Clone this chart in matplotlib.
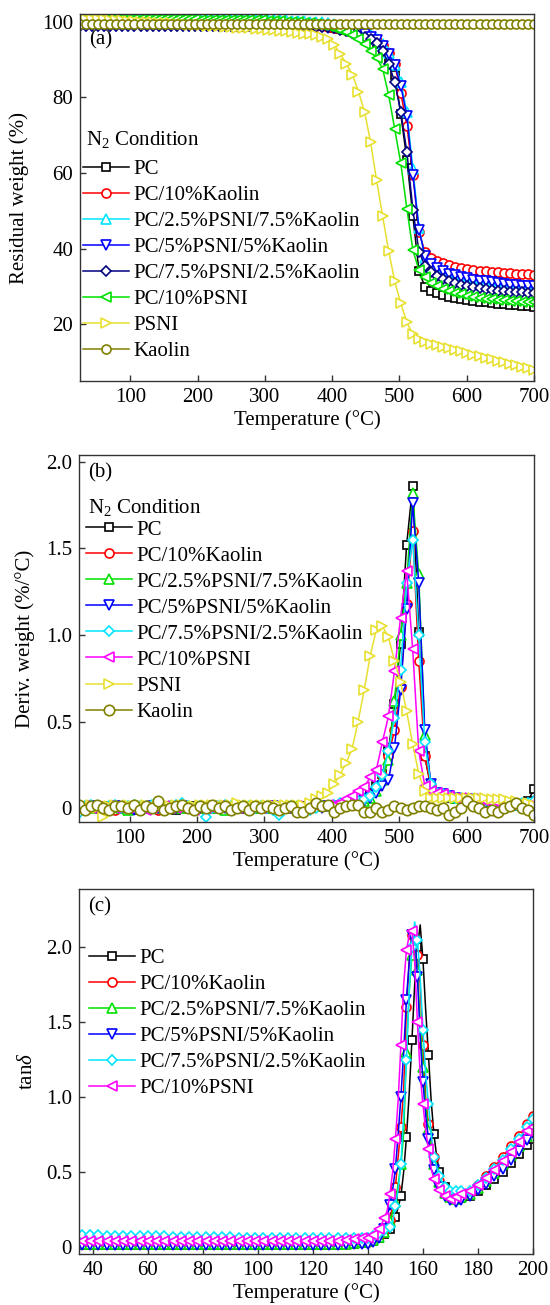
import matplotlib
matplotlib.use("Agg")
import matplotlib.pyplot as plt
from matplotlib.ticker import FuncFormatter

plt.rcParams['font.family'] = ['Liberation Serif', 'DejaVu Serif']
plt.rcParams['mathtext.fontset'] = 'custom'
plt.rcParams['mathtext.rm'] = 'Liberation Serif'
plt.rcParams['mathtext.it'] = 'Liberation Serif:italic'

# ---------------- data: TGA / DTG (temperature, degC) ----------------
T_TGA = [25, 34, 43, 52, 61, 70, 79, 88, 97, 106,
         115, 124, 133, 142, 151, 160, 169, 178, 187, 196,
         205, 214, 223, 232, 241, 250, 259, 268, 277, 286,
         295, 304, 313, 322, 331, 340, 349, 358, 367, 376,
         385, 394, 403, 412, 421, 430, 439, 448, 457, 466,
         475, 484, 493, 502, 511, 520, 529, 538, 547, 556,
         565, 574, 583, 592, 601, 610, 619, 628, 637, 646,
         655, 664, 673, 682, 691, 700]

tga_pc = [99.9, 99.9, 99.9, 99.9, 99.9, 99.9, 99.9, 99.9, 99.9, 99.9,
          99.9, 99.9, 99.9, 99.9, 99.9, 99.9, 99.9, 99.9, 99.9, 99.9,
          99.8, 99.8, 99.8, 99.8, 99.8, 99.8, 99.8, 99.8, 99.8, 99.8,
          99.8, 99.7, 99.7, 99.6, 99.6, 99.5, 99.4, 99.3, 99.2, 99.0,
          98.9, 98.7, 98.4, 98.1, 97.8, 97.3, 96.8, 96.2, 95.3, 94.2,
          92.6, 90.3, 86.0, 75.5, 63.5, 48.5, 34.0, 29.8, 28.9, 28.2,
          27.7, 27.3, 27.0, 26.7, 26.4, 26.2, 26.0, 25.8, 25.6, 25.4,
          25.3, 25.1, 25.0, 24.8, 24.7, 24.6]
tga_k10 = [99.7, 99.7, 99.7, 99.7, 99.7, 99.7, 99.7, 99.7, 99.7, 99.7,
           99.7, 99.7, 99.7, 99.7, 99.7, 99.7, 99.7, 99.7, 99.7, 99.7,
           99.7, 99.7, 99.7, 99.7, 99.7, 99.7, 99.7, 99.7, 99.7, 99.7,
           99.6, 99.6, 99.5, 99.5, 99.4, 99.3, 99.2, 99.1, 99.0, 98.9,
           98.7, 98.5, 98.3, 98.0, 97.7, 97.3, 96.9, 96.4, 95.7, 94.9,
           93.7, 91.8, 88.8, 81.0, 72.5, 59.5, 44.5, 39.0, 37.6, 36.7,
           36.1, 35.6, 35.2, 34.9, 34.6, 34.4, 34.2, 34.0, 33.9, 33.7,
           33.6, 33.5, 33.4, 33.3, 33.2, 33.1]
tga_p25 = [100.6, 100.6, 100.6, 100.6, 100.6, 100.6, 100.6, 100.6, 100.6, 100.6,
           100.6, 100.6, 100.6, 100.6, 100.6, 100.6, 100.6, 100.6, 100.6, 100.6,
           100.5, 100.5, 100.5, 100.5, 100.5, 100.5, 100.5, 100.5, 100.5, 100.5,
           100.5, 100.4, 100.4, 100.3, 100.3, 100.2, 100.2, 100.1, 100.0, 99.9,
           99.8, 99.6, 99.4, 99.1, 98.8, 98.4, 97.9, 97.3, 96.5, 95.5,
           94.0, 91.8, 88.5, 84.0, 76.0, 61.0, 45.5, 37.5, 35.2, 34.0,
           33.2, 32.6, 32.2, 31.8, 31.5, 31.2, 31.0, 30.8, 30.6, 30.4,
           30.3, 30.1, 30.0, 29.9, 29.8, 29.7]
tga_p50 = [98.8, 98.8, 98.8, 98.8, 98.8, 98.8, 98.8, 98.8, 98.8, 98.8,
           98.8, 98.8, 98.8, 98.8, 98.8, 98.8, 98.8, 98.8, 98.8, 98.8,
           98.8, 98.8, 98.8, 98.8, 98.8, 98.8, 98.8, 98.8, 98.8, 98.8,
           98.8, 98.8, 98.8, 98.8, 98.8, 98.8, 98.8, 98.8, 98.8, 98.7,
           98.6, 98.4, 98.2, 98.0, 97.8, 97.5, 97.2, 96.8, 96.0, 95.0,
           93.5, 91.5, 88.5, 83.0, 75.0, 59.5, 45.0, 38.0, 36.0, 34.8,
           34.0, 33.4, 32.9, 32.5, 32.1, 31.8, 31.5, 31.3, 31.1, 30.9,
           30.7, 30.5, 30.4, 30.2, 30.1, 30.0]
tga_p75 = [98.7, 98.7, 98.7, 98.7, 98.7, 98.7, 98.7, 98.7, 98.7, 98.7,
           98.7, 98.7, 98.7, 98.7, 98.7, 98.7, 98.7, 98.7, 98.7, 98.7,
           98.7, 98.7, 98.7, 98.7, 98.7, 98.7, 98.7, 98.7, 98.7, 98.7,
           98.7, 98.7, 98.7, 98.7, 98.7, 98.7, 98.7, 98.7, 98.7, 98.6,
           98.6, 98.5, 98.3, 97.9, 97.4, 96.9, 96.4, 95.9, 95.5, 94.4,
           92.2, 88.8, 84.0, 76.0, 65.5, 50.2, 39.2, 35.5, 33.8, 32.8,
           32.0, 31.4, 30.9, 30.5, 30.1, 29.8, 29.5, 29.3, 29.1, 28.9,
           28.7, 28.6, 28.5, 28.4, 28.3, 28.2]
tga_p100 = [100.6, 100.6, 100.6, 100.6, 100.6, 100.6, 100.6, 100.6, 100.6, 100.6,
            100.6, 100.6, 100.6, 100.6, 100.6, 100.6, 100.6, 100.6, 100.6, 100.6,
            100.5, 100.5, 100.5, 100.5, 100.4, 100.4, 100.4, 100.4, 100.3, 100.3,
            100.3, 100.2, 100.2, 100.1, 100.0, 99.9, 99.8, 99.6, 99.5, 99.3,
            99.0, 98.7, 98.3, 97.8, 97.2, 96.4, 95.3, 94.0, 92.3, 90.4,
            87.5, 80.5, 71.5, 62.5, 50.5, 39.5, 34.3, 32.5, 31.0, 30.0,
            29.3, 28.8, 28.3, 27.9, 27.5, 27.2, 27.0, 26.8, 26.6, 26.4,
            26.3, 26.2, 26.1, 26.0, 25.9, 25.8]
tga_psni = [100.8, 100.8, 100.7, 100.7, 100.6, 100.5, 100.4, 100.3, 100.2, 100.1,
            100.0, 99.9, 99.8, 99.7, 99.6, 99.5, 99.4, 99.3, 99.2, 99.1,
            99.0, 98.9, 98.8, 98.7, 98.6, 98.5, 98.4, 98.3, 98.2, 98.1,
            98.0, 97.8, 97.7, 97.5, 97.4, 97.2, 97.0, 96.8, 96.6, 96.4,
            96.0, 95.5, 93.8, 91.5, 88.8, 86.0, 81.5, 76.2, 68.2, 58.0,
            48.5, 39.3, 31.3, 25.5, 20.5, 17.3, 16.0, 15.3, 14.8, 14.4,
            14.0, 13.6, 13.2, 12.8, 12.4, 12.0, 11.6, 11.2, 10.8, 10.4,
            10.0, 9.6, 9.2, 8.8, 8.4, 8.0]
tga_kaolin = [99.4, 99.4, 99.4, 99.4, 99.4, 99.4, 99.4, 99.4, 99.4, 99.4,
              99.4, 99.4, 99.4, 99.4, 99.4, 99.4, 99.4, 99.4, 99.4, 99.4,
              99.4, 99.4, 99.4, 99.4, 99.4, 99.4, 99.4, 99.4, 99.4, 99.4,
              99.4, 99.4, 99.4, 99.4, 99.4, 99.4, 99.4, 99.4, 99.4, 99.4,
              99.4, 99.4, 99.4, 99.4, 99.4, 99.4, 99.4, 99.4, 99.4, 99.4,
              99.4, 99.4, 99.4, 99.4, 99.4, 99.4, 99.4, 99.4, 99.3, 99.3,
              99.3, 99.3, 99.3, 99.3, 99.3, 99.3, 99.3, 99.3, 99.3, 99.3,
              99.3, 99.3, 99.3, 99.3, 99.3, 99.3]

dtg_pc = [0.01, 0.00, 0.01, 0.00, 0.00, 0.01, 0.00, 0.00, 0.01, 0.00,
          -0.01, 0.00, 0.00, 0.01, 0.00, 0.00, -0.01, 0.00, 0.00, 0.01,
          0.00, 0.00, 0.00, 0.01, 0.00, 0.00, 0.00, 0.00, 0.01, 0.00,
          0.00, 0.00, 0.00, 0.00, 0.00, 0.00, 0.00, 0.01, 0.01, 0.01,
          0.01, 0.01, 0.02, 0.02, 0.03, 0.03, 0.04, 0.06, 0.09, 0.13,
          0.20, 0.33, 0.60, 0.95, 1.52, 1.86, 1.02, 0.30, 0.12, 0.08,
          0.07, 0.06, 0.05, 0.05, 0.04, 0.04, 0.04, 0.03, 0.03, 0.03,
          0.02, 0.02, 0.02, 0.02, 0.04, 0.11]
dtg_k10 = [0.00, 0.01, 0.00, 0.00, 0.01, 0.00, -0.01, 0.00, 0.00, 0.00,
           0.01, 0.00, 0.00, -0.01, 0.00, 0.00, 0.00, 0.01, 0.00, 0.00,
           0.00, -0.01, 0.00, 0.00, 0.00, 0.01, 0.00, 0.00, 0.00, 0.00,
           0.00, 0.00, 0.01, 0.00, 0.00, 0.00, 0.00, 0.00, 0.01, 0.01,
           0.01, 0.01, 0.02, 0.02, 0.03, 0.03, 0.04, 0.05, 0.08, 0.12,
           0.19, 0.30, 0.45, 0.70, 1.18, 1.60, 0.85, 0.30, 0.13, 0.09,
           0.08, 0.07, 0.06, 0.06, 0.05, 0.05, 0.04, 0.04, 0.03, 0.03,
           0.03, 0.02, 0.02, 0.02, 0.02, 0.02]
dtg_p25 = [0.01, 0.00, 0.00, 0.01, 0.00, 0.00, 0.01, 0.00, -0.01, 0.00,
           0.00, 0.01, 0.00, 0.00, 0.00, 0.01, 0.00, 0.00, 0.00, 0.00,
           0.01, 0.00, 0.00, 0.00, -0.01, 0.00, 0.00, 0.01, 0.00, 0.00,
           0.00, 0.01, 0.00, 0.00, 0.00, 0.00, 0.01, 0.00, 0.01, 0.01,
           0.01, 0.01, 0.01, 0.02, 0.02, 0.03, 0.03, 0.04, 0.06, 0.10,
           0.16, 0.28, 0.62, 1.00, 1.30, 1.82, 1.35, 0.42, 0.14, 0.09,
           0.08, 0.07, 0.06, 0.06, 0.05, 0.05, 0.04, 0.04, 0.03, 0.03,
           0.03, 0.02, 0.02, 0.02, 0.01, 0.01]
dtg_p50 = [0.00, 0.00, 0.01, 0.00, 0.00, 0.00, 0.01, 0.00, 0.00, -0.01,
           0.00, 0.00, 0.01, 0.00, 0.00, 0.00, 0.00, 0.01, 0.00, 0.00,
           0.00, 0.00, 0.01, 0.00, 0.00, 0.00, 0.00, 0.00, -0.01, 0.00,
           0.00, 0.00, 0.01, 0.00, 0.00, 0.00, -0.01, 0.00, 0.00, 0.01,
           0.00, 0.01, 0.01, 0.01, 0.02, 0.02, 0.03, 0.04, 0.06, 0.09,
           0.13, 0.16, 0.35, 0.68, 1.15, 1.76, 1.30, 0.45, 0.14, 0.09,
           0.08, 0.07, 0.06, 0.05, 0.05, 0.04, 0.04, 0.03, 0.03, 0.03,
           0.02, 0.02, 0.02, 0.01, 0.01, 0.01]
dtg_p75 = [-0.03, 0.01, 0.02, 0.01, 0.00, 0.01, 0.02, 0.00, 0.01, 0.02,
           0.01, 0.00, 0.02, 0.01, 0.00, 0.01, 0.02, 0.03, 0.01, 0.00,
           0.01, -0.05, 0.00, 0.01, 0.02, 0.01, 0.00, 0.01, 0.01, 0.00,
           0.01, 0.00, -0.01, -0.04, 0.00, 0.01, 0.00, 0.00, -0.01, 0.00,
           0.01, 0.01, 0.02, 0.03, 0.03, 0.04, 0.04, 0.05, 0.07, 0.12,
           0.19, 0.33, 0.52, 0.80, 1.30, 1.55, 1.00, 0.38, 0.14, 0.09,
           0.08, 0.07, 0.06, 0.06, 0.05, 0.05, 0.04, 0.04, 0.03, 0.03,
           0.03, 0.02, 0.02, 0.03, 0.03, 0.04]
dtg_p100 = [0.00, 0.01, 0.00, 0.00, 0.00, 0.01, 0.00, 0.00, 0.00, 0.00,
            0.00, -0.01, 0.00, 0.00, 0.01, 0.00, 0.00, 0.00, 0.00, -0.01,
            0.00, 0.00, 0.00, 0.01, 0.00, 0.00, 0.00, 0.00, 0.00, 0.00,
            0.00, 0.01, 0.00, 0.00, 0.00, 0.00, 0.01, 0.01, 0.01, 0.01,
            0.01, 0.02, 0.02, 0.03, 0.05, 0.07, 0.10, 0.12, 0.18, 0.22,
            0.38, 0.53, 0.79, 1.10, 1.37, 0.92, 0.33, 0.13, 0.10, 0.09,
            0.08, 0.07, 0.06, 0.06, 0.05, 0.05, 0.04, 0.04, 0.03, 0.03,
            0.02, 0.02, 0.01, 0.00, 0.01, 0.01]
dtg_psni = [0.00, 0.01, 0.02, 0.00, -0.05, 0.01, 0.02, 0.01, 0.02, 0.01,
            0.02, 0.02, 0.01, 0.02, 0.02, 0.01, 0.02, 0.02, 0.02, 0.01,
            0.02, 0.02, 0.02, 0.02, 0.02, 0.02, 0.03, 0.02, 0.02, 0.02,
            0.02, 0.02, 0.02, 0.02, 0.02, 0.02, 0.02, 0.02, 0.03, 0.05,
            0.07, 0.09, 0.14, 0.19, 0.26, 0.34, 0.50, 0.68, 0.88, 1.03,
            1.05, 0.99, 0.85, 0.73, 0.56, 0.37, 0.20, 0.10, 0.06, 0.06,
            0.06, 0.06, 0.06, 0.06, 0.06, 0.06, 0.06, 0.06, 0.05, 0.05,
            0.05, 0.04, 0.04, 0.03, 0.03, 0.02]
dtg_kaolin = [0.02, -0.01, 0.01, 0.02, 0.00, -0.01, 0.01, 0.01, 0.00, 0.02,
              -0.01, 0.01, 0.00, 0.04, -0.01, 0.00, 0.01, 0.02, 0.00, -0.01,
              0.01, 0.00, 0.02, 0.00, 0.01, -0.01, 0.00, 0.01, -0.01, 0.01,
              0.00, 0.01, 0.00, -0.01, 0.00, 0.01, -0.02, -0.02, 0.00, 0.03,
              0.01, 0.02, -0.02, 0.00, 0.01, 0.02, 0.02, -0.02, -0.02, 0.00,
              -0.02, -0.01, 0.01, 0.00, -0.01, 0.00, 0.01, 0.01, 0.00, -0.01,
              0.00, -0.04, -0.02, 0.00, 0.04, 0.01, 0.00, -0.02, -0.01, -0.02,
              0.00, 0.01, 0.03, 0.00, -0.01, -0.04]

# ---------------- data: DMA tan(delta) ----------------
T_DMA = [36, 39, 42, 45, 48, 51, 54, 57, 60, 63,
         66, 69, 72, 75, 78, 81, 84, 87, 90, 93,
         96, 99, 102, 105, 108, 111, 114, 117, 120, 123,
         126, 129, 132, 135, 138,
         140, 141, 142, 143, 144, 145, 146, 147, 148, 149,
         150, 151, 152, 153, 154, 155, 156, 157, 158, 159,
         160, 161, 162, 163, 164, 165, 166, 167, 168, 169,
         170, 171, 172, 173, 174,
         177, 180, 183, 186, 189, 192, 195, 198, 200]

tan_pc = [0.01, 0.01, 0.01, 0.01, 0.01, 0.01, 0.01, 0.01, 0.01, 0.01,
          0.01, 0.01, 0.01, 0.01, 0.01, 0.01, 0.01, 0.01, 0.01, 0.01,
          0.01, 0.01, 0.01, 0.01, 0.01, 0.01, 0.01, 0.01, 0.01, 0.01,
          0.01, 0.012, 0.015, 0.02, 0.025,
          0.03, 0.035, 0.04, 0.05, 0.06, 0.07, 0.085, 0.10, 0.12, 0.15,
          0.20, 0.26, 0.34, 0.50, 0.73, 1.02, 1.38, 1.75, 2.00, 2.15,
          1.92, 1.58, 1.28, 0.97, 0.75, 0.60, 0.50, 0.44, 0.40, 0.37,
          0.35, 0.34, 0.33, 0.325, 0.325,
          0.34, 0.37, 0.41, 0.45, 0.50, 0.56, 0.62, 0.68, 0.72]
tan_k10 = [0.02, 0.02, 0.02, 0.02, 0.02, 0.02, 0.02, 0.02, 0.02, 0.02,
           0.02, 0.02, 0.02, 0.02, 0.02, 0.02, 0.02, 0.02, 0.02, 0.02,
           0.02, 0.02, 0.02, 0.02, 0.02, 0.02, 0.02, 0.02, 0.02, 0.02,
           0.02, 0.02, 0.02, 0.025, 0.03,
           0.03, 0.035, 0.045, 0.055, 0.07, 0.09, 0.11, 0.14, 0.18, 0.27,
           0.40, 0.60, 0.80, 1.05, 1.60, 1.90, 2.08, 2.12, 1.95, 1.75,
           1.35, 0.99, 0.82, 0.70, 0.60, 0.50, 0.44, 0.40, 0.37, 0.35,
           0.34, 0.33, 0.33, 0.335, 0.34,
           0.36, 0.41, 0.47, 0.53, 0.60, 0.67, 0.74, 0.82, 0.87]
tan_p25 = [0.02, 0.02, 0.02, 0.02, 0.02, 0.02, 0.02, 0.02, 0.02, 0.02,
           0.02, 0.02, 0.02, 0.02, 0.02, 0.02, 0.02, 0.02, 0.02, 0.02,
           0.02, 0.02, 0.02, 0.02, 0.02, 0.02, 0.02, 0.02, 0.02, 0.02,
           0.02, 0.02, 0.02, 0.025, 0.03,
           0.035, 0.04, 0.045, 0.05, 0.065, 0.08, 0.10, 0.13, 0.17, 0.23,
           0.30, 0.42, 0.55, 0.75, 1.30, 1.70, 1.95, 2.05, 1.85, 1.50,
           1.20, 0.95, 0.78, 0.65, 0.55, 0.48, 0.43, 0.39, 0.36, 0.34,
           0.33, 0.32, 0.32, 0.32, 0.33,
           0.35, 0.39, 0.44, 0.49, 0.55, 0.61, 0.67, 0.74, 0.78]
tan_p50 = [0.01, 0.01, 0.01, 0.01, 0.01, 0.01, 0.01, 0.01, 0.01, 0.01,
           0.01, 0.01, 0.01, 0.01, 0.01, 0.01, 0.01, 0.01, 0.01, 0.01,
           0.01, 0.01, 0.01, 0.01, 0.01, 0.01, 0.01, 0.01, 0.01, 0.01,
           0.01, 0.012, 0.015, 0.02, 0.02,
           0.02, 0.025, 0.03, 0.04, 0.055, 0.08, 0.12, 0.20, 0.28, 0.38,
           0.52, 0.75, 1.00, 1.30, 1.65, 1.90, 2.08, 2.12, 1.80, 1.40,
           1.10, 0.88, 0.72, 0.60, 0.51, 0.45, 0.40, 0.36, 0.34, 0.32,
           0.31, 0.30, 0.30, 0.31, 0.31,
           0.34, 0.38, 0.42, 0.47, 0.52, 0.58, 0.64, 0.71, 0.76]
tan_p75 = [0.075, 0.075, 0.074, 0.073, 0.072, 0.071, 0.070, 0.070, 0.069, 0.068,
           0.067, 0.066, 0.066, 0.065, 0.064, 0.063, 0.063, 0.062, 0.061, 0.060,
           0.060, 0.059, 0.058, 0.058, 0.057, 0.056, 0.056, 0.055, 0.055, 0.055,
           0.055, 0.055, 0.056, 0.057, 0.058,
           0.06, 0.065, 0.07, 0.08, 0.09, 0.10, 0.11, 0.12, 0.13, 0.17,
           0.27, 0.38, 0.55, 0.88, 1.25, 1.70, 2.00, 2.17, 2.05, 1.80,
           1.45, 1.15, 0.95, 0.75, 0.60, 0.53, 0.47, 0.43, 0.40, 0.38,
           0.37, 0.37, 0.37, 0.37, 0.37,
           0.37, 0.41, 0.46, 0.52, 0.58, 0.65, 0.72, 0.80, 0.85]
tan_p100 = [0.04, 0.04, 0.04, 0.04, 0.04, 0.04, 0.04, 0.04, 0.04, 0.04,
            0.04, 0.04, 0.04, 0.04, 0.04, 0.04, 0.04, 0.04, 0.04, 0.04,
            0.035, 0.035, 0.035, 0.035, 0.035, 0.035, 0.035, 0.035, 0.035, 0.035,
            0.035, 0.04, 0.045, 0.05, 0.055,
            0.06, 0.065, 0.08, 0.10, 0.12, 0.15, 0.19, 0.24, 0.35, 0.50,
            0.72, 0.98, 1.35, 1.75, 1.98, 2.08, 2.11, 1.90, 1.50, 1.15,
            0.95, 0.78, 0.65, 0.52, 0.45, 0.41, 0.38, 0.36, 0.34, 0.33,
            0.32, 0.32, 0.33, 0.34, 0.35,
            0.37, 0.41, 0.46, 0.51, 0.57, 0.63, 0.70, 0.77, 0.80]

LABELS = ['PC', 'PC/10%Kaolin', 'PC/2.5%PSNI/7.5%Kaolin', 'PC/5%PSNI/5%Kaolin',
          'PC/7.5%PSNI/2.5%Kaolin', 'PC/10%PSNI', 'PSNI', 'Kaolin']

# ---------------- styles ----------------
BLACK, RED, CYAN, BLUE, NAVY = '#000000', '#ff0000', '#00e5ff', '#0000ff', '#000080'
GREEN, MAGENTA, YELLOW, OLIVE = '#00e000', '#ff00ff', '#e8e030', '#808000'
SPINE = '#333333'
FS = 15

tga_sty = [(BLACK, 's', 6.0), (RED, 'o', 6.5), (CYAN, '^', 6.5), (BLUE, 'v', 6.5),
           (NAVY, 'D', 5.5), (GREEN, '<', 6.5), (YELLOW, '>', 6.5), (OLIVE, 'o', 6.5)]
dtg_sty = [(BLACK, 's', 6.0), (RED, 'o', 6.5), (GREEN, '^', 6.5), (BLUE, 'v', 6.5),
           (CYAN, 'D', 5.5), (MAGENTA, '<', 6.5), (YELLOW, '>', 6.5), (OLIVE, 'o', 7.5)]
tan_sty = dtg_sty[:6]

fig = plt.figure(figsize=(5.5, 13.05), dpi=100)
W, H = 550.0, 1305.0
ax_a = fig.add_axes([80 / W, 1 - 381 / H, 454 / W, 367 / H])
ax_b = fig.add_axes([79 / W, 1 - 822 / H, 455 / W, 367 / H])
ax_c = fig.add_axes([79 / W, 1 - 1254 / H, 454 / W, 365 / H])


def plot_series(ax, x, ys, styles, labels, markevery=None):
    for y, (c, m, ms), lab in zip(ys, styles, labels):
        ax.plot(x, y, color=c, lw=1.1, marker=m, ms=ms, mfc='white', mec=c,
                mew=1.2, label=lab, markevery=markevery)


def style_axes(ax):
    for s in ax.spines.values():
        s.set_color(SPINE)
        s.set_linewidth(1.0)
    ax.tick_params(direction='in', length=4, width=1.0, color=SPINE,
                   labelsize=FS, pad=5, top=False, right=False)


fmt = FuncFormatter(lambda v, p: '0' if abs(v) < 1e-9 else f'{v:.1f}')
LEG = dict(loc='upper left', frameon=False, fontsize=FS, handlelength=2.2,
           handletextpad=0.2, labelspacing=0.31, borderpad=0, borderaxespad=0,
           numpoints=1)

# (a) TGA
plot_series(ax_a, T_TGA, [tga_pc, tga_k10, tga_p25, tga_p50, tga_p75, tga_p100, tga_psni, tga_kaolin],
            tga_sty, LABELS)
ax_a.set_xlim(25, 700)
ax_a.set_ylim(5, 102)
ax_a.set_xticks([100, 200, 300, 400, 500, 600, 700])
ax_a.set_yticks([20, 40, 60, 80, 100])
style_axes(ax_a)
ax_a.set_xlabel('Temperature (°C)', fontsize=FS, labelpad=2)
ax_a.set_ylabel('Residual weight (%)', fontsize=FS)
ax_a.yaxis.set_label_coords(-0.112, 0.5)
ax_a.text(0.021, 0.929, '(a)', transform=ax_a.transAxes, fontsize=FS, va='center', ha='left')
ax_a.text(0.013, 0.643, r'N$_2$ Condition', transform=ax_a.transAxes, fontsize=FS,
          va='baseline', ha='left')
ax_a.legend(bbox_to_anchor=(0.0066, 0.604), **LEG)

# (b) DTG
plot_series(ax_b, T_TGA, [dtg_pc, dtg_k10, dtg_p25, dtg_p50, dtg_p75, dtg_p100, dtg_psni, dtg_kaolin],
            dtg_sty, LABELS)
ax_b.set_xlim(25, 700)
ax_b.set_ylim(-0.08, 2.04)
ax_b.set_xticks([100, 200, 300, 400, 500, 600, 700])
ax_b.set_yticks([0, 0.5, 1.0, 1.5, 2.0])
ax_b.yaxis.set_major_formatter(fmt)
style_axes(ax_b)
ax_b.set_xlabel('Temperature (°C)', fontsize=FS, labelpad=2)
ax_b.set_ylabel('Deriv. weight (%/°C)', fontsize=FS)
ax_b.yaxis.set_label_coords(-0.097, 0.5)
ax_b.text(0.021, 0.951, '(b)', transform=ax_b.transAxes, fontsize=FS, va='center', ha='left')
ax_b.text(0.019, 0.843, r'N$_2$ Condition', transform=ax_b.transAxes, fontsize=FS,
          va='baseline', ha='left')
ax_b.legend(bbox_to_anchor=(0.0154, 0.823), **LEG)

# (c) tan delta
dma_marks = [i for i, t in enumerate(T_DMA) if not (140 < t < 175 and t % 2 == 1)]
plot_series(ax_c, T_DMA, [tan_pc, tan_k10, tan_p25, tan_p50, tan_p75, tan_p100],
            tan_sty, LABELS[:6], markevery=dma_marks)
ax_c.set_xlim(35, 200)
ax_c.set_ylim(-0.05, 2.39)
ax_c.set_xticks([40, 60, 80, 100, 120, 140, 160, 180, 200])
ax_c.set_yticks([0, 0.5, 1.0, 1.5, 2.0])
ax_c.yaxis.set_major_formatter(fmt)
style_axes(ax_c)
ax_c.set_xlabel('Temperature (°C)', fontsize=FS, labelpad=2)
ax_c.set_ylabel(r'tan$\delta$', fontsize=FS)
ax_c.yaxis.set_label_coords(-0.0925, 0.5)
ax_c.text(0.021, 0.951, '(c)', transform=ax_c.transAxes, fontsize=FS, va='center', ha='left')
ax_c.legend(bbox_to_anchor=(0.023, 0.837), **LEG)

fig.savefig('out.png', dpi=100)
